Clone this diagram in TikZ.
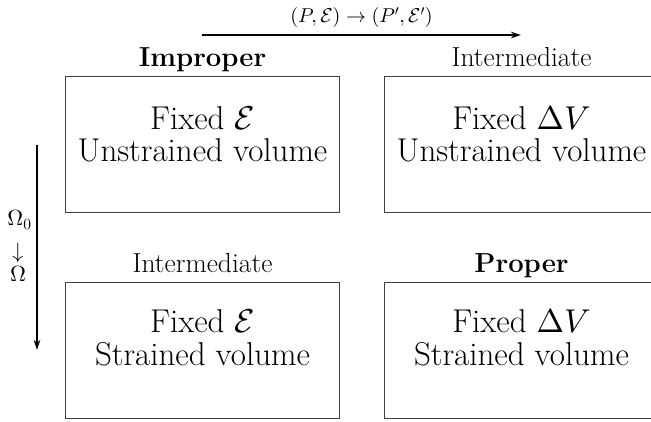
\documentclass[tikz,border=0pt]{standalone}
\DeclareFontShape{OML}{cmm}{m}{it}{<->cmmi10}{}
\DeclareFontShape{OMS}{cmsy}{m}{n}{<->cmsy10}{}
\DeclareFontShape{OT1}{cmr}{m}{n}{<->cmr10}{}
\DeclareFontShape{OMX}{cmex}{m}{n}{<->cmex10}{}
\usetikzlibrary{arrows.meta,calc}
\begin{document}
\begin{tikzpicture}[x=1pt,y=-1pt,
  frame/.style={draw=black!75, line width=1pt, minimum width=274pt, minimum height=136pt, inner sep=0pt, anchor=north west},
  boxtext/.style={font=\fontsize{33}{40}\selectfont, anchor=base, inner sep=0pt},
  heading/.style={font=\fontsize{27.5}{33}\selectfont, anchor=base, inner sep=0pt},
  smalltext/.style={font=\fontsize{20}{24}\selectfont, anchor=base, inner sep=0pt},
  omtext/.style={font=\fontsize{22}{26}\selectfont, anchor=base, inner sep=0pt},
  flow/.style={-{Stealth[length=10pt,width=6.5pt]}, line width=1.4pt}]
\useasboundingbox (0,0) rectangle (651,422);
% boxes
\node[frame] (tl) at (65,76.5) {};
\node[frame] (tr) at (384,76.5) {};
\node[frame] (bl) at (65,282) {};
\node[frame] (br) at (384,282) {};
% headings
\node[heading] (htl) at ([yshift=9.5pt]tl.north) {\bfseries Improper};
\node[heading] (htr) at ([yshift=9.5pt]tr.north) {Intermediate};
\node[heading] (hbl) at ([yshift=9.5pt]bl.north) {Intermediate};
\node[heading] (hbr) at ([yshift=9.5pt]br.north) {\bfseries Proper};
% box texts
\node[boxtext] (tla) at ([yshift=-53pt]tl.north) {Fixed $\mathcal{E}$};
\node[boxtext] (tlb) at ([yshift=-85pt]tl.north) {Unstrained volume};
\node[boxtext] (tra) at ([yshift=-53pt]tr.north) {Fixed $\Delta V$};
\node[boxtext] (trb) at ([yshift=-85pt]tr.north) {Unstrained volume};
\node[boxtext] (bla) at ([yshift=-51pt]bl.north) {Fixed $\mathcal{E}$};
\node[boxtext] (blb) at ([yshift=-83pt]bl.north) {Strained volume};
\node[boxtext] (bra) at ([yshift=-51pt]br.north) {Fixed $\Delta V$};
\node[boxtext] (brb) at ([yshift=-83pt]br.north) {Strained volume};
% top arrow
\coordinate (hs) at (202,35);
\coordinate (he) at (521,35);
\draw[flow] (hs) -- (he);
\node[smalltext] (hlab) at ([yshift=12pt]$(hs)!0.5!(he)$) {$(P,\mathcal{E})\rightarrow(P',\mathcal{E}')$};
% vertical arrow
\coordinate (vs) at (37,145);
\coordinate (ve) at (37,350);
\draw[flow] (vs) -- (ve);
\node[omtext] (om0) at (19.5,226) {$\Omega_0$};
\node[omtext] (omd) at (18,259) {$\downarrow$};
\node[omtext] (om) at (18,282) {$\Omega$};
\end{tikzpicture}
\end{document}
